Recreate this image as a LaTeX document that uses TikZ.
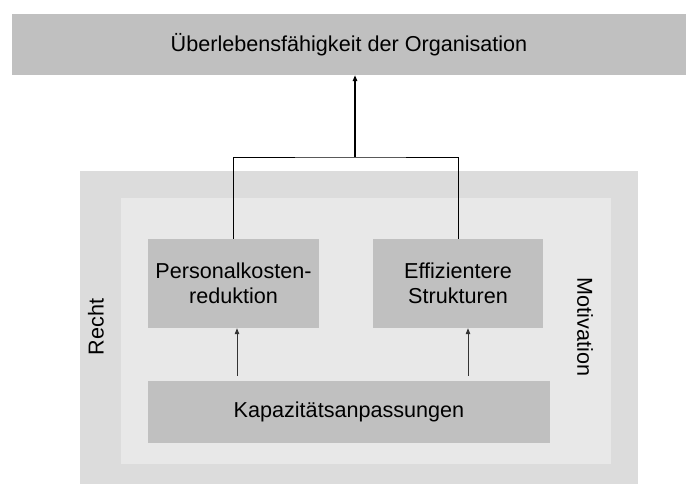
\documentclass[tikz,border=0pt]{standalone}
\usepackage{fontspec}
\setmainfont{Liberation Sans}
\usetikzlibrary{arrows.meta}

\definecolor{boxgray}{gray}{0.753}
\definecolor{framegray}{gray}{0.863}
\definecolor{innergray}{gray}{0.91}

\tikzset{
  block/.style={fill=boxgray, inner sep=0pt, align=center, font=\fontsize{21.6}{25.5}\selectfont},
  frame/.style={inner sep=0pt},
  side/.style={font=\fontsize{21.6}{25.5}\selectfont, inner sep=0pt},
  arr/.style={-{Triangle[length=6pt,width=4.5pt]}}
}

\begin{document}
\begin{tikzpicture}[x=1pt,y=-1pt]
			\useasboundingbox (0,0) rectangle (686,484);
			
			% frames behind the blocks
			\node[frame, fill=framegray, minimum width=558pt, minimum height=313pt] (recht) at (359, 327.5) {};
			\node[frame, fill=innergray, minimum width=490pt, minimum height=266pt] (inner) at (366, 331) {};
			
			\node[block, minimum width=674pt, minimum height=61pt] (top) at (349, 44.5) {Überlebensfähigkeit der Organisation};
			\node[block, minimum width=171pt, minimum height=89pt] (pk) at (233.5, 283.5) {Personalkosten-\\reduktion};
			\node[block, minimum width=170pt, minimum height=89pt] (ez) at (458, 283.5) {Effizientere\\Strukturen};
			\node[block, minimum width=402pt, minimum height=62pt] (kap) at (349, 412) {Kapazitätsanpassungen};
			
			\node[side, rotate=90] (lr) at (96, 327) {Recht};
			\node[side, rotate=-90] (lm) at (585, 327) {Motivation};
			
			\coordinate (join) at (355, 157);
			\draw[line width=0.8pt] (pk.north) |- (join) -| (ez.north);
			\draw[arr, line width=1.4pt] (join) -- (join |- top.south);
			
			\foreach \u/\s in {pk/3.5, ez/10}  % arrows from the bottom block
			{	\draw[arr, line width=0.9pt, black!80, shorten <=5pt] ([xshift=\s pt]\u.south |- kap.north) -- ([xshift=\s pt]\u.south);}
		\end{tikzpicture}
\end{document}
